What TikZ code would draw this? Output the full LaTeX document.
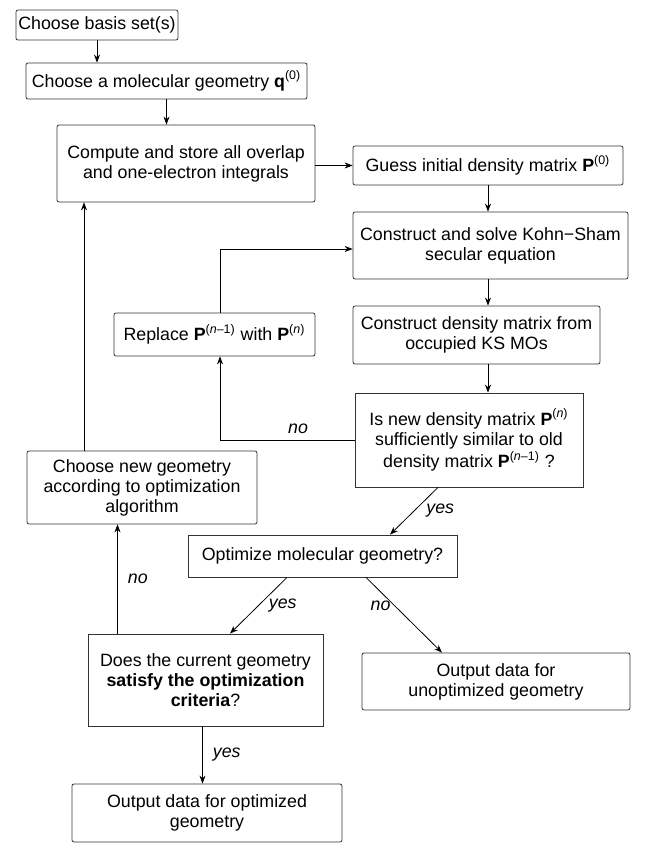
\documentclass[tikz,border=0pt]{standalone}
\usepackage{fontspec}
\setmainfont{Liberation Sans}
\usetikzlibrary{arrows.meta}

\tikzset{
    box/.style={draw=black!80, rounded corners=1pt, align=center, inner sep=0pt, font=\fontsize{8.9}{10}\selectfont},
    sqbox/.style={box, rounded corners=0pt},
    arr/.style={-{Stealth[length=4pt, width=3pt]}, black},
    lbl/.style={font=\fontsize{8.9}{10}\selectfont\itshape, inner sep=1pt}
}

\begin{document}
\begin{tikzpicture}[x=0.5pt, y=-0.5pt]
    \useasboundingbox (0,0) rectangle (646,856);
    % Boxes of the flow chart
    \node[box, minimum width=81pt, minimum height=15pt] (basis) at (97,25) {Choose basis set(s)};
    \node[box, minimum width=140.5pt, minimum height=18pt] (geom) at (166.5,81) {Choose a molecular geometry \textbf{q}\textsuperscript{(0)}};
    \node[box, minimum width=129pt, minimum height=38.5pt] (integrals) at (186,163.5) {Compute and store all overlap\\and one-electron integrals};
    \node[box, minimum width=135pt, minimum height=19.5pt] (guess) at (488,165.5) {Guess initial density matrix \textbf{P}\textsuperscript{(0)}};
    \node[box, minimum width=137.5pt, minimum height=33.5pt] (kohnsham) at (490.5,245.5) {Construct and solve Kohn−Sham\\secular equation};
    \node[box, minimum width=100.5pt, minimum height=21.5pt] (replace) at (214.5,334.5) {Replace \textbf{P}\textsuperscript{(\textit{n}–1)} with \textbf{P}\textsuperscript{(\textit{n})}};
    \node[box, minimum width=123.5pt, minimum height=29pt] (density) at (476.5,335) {Construct density matrix from\\occupied KS MOs};
    \node[sqbox, minimum width=114pt, minimum height=47pt] (similar) at (469,440) {Is new density matrix \textbf{P}\textsuperscript{(\textit{n})}\\sufficiently similar to old\\density matrix \textbf{P}\textsuperscript{(\textit{n}–1)} ?};
    \node[box, minimum width=115pt, minimum height=36.5pt] (newgeom) at (142,487.5) {Choose new geometry\\according to optimization\\algorithm};
    \node[sqbox, minimum width=134.5pt, minimum height=21pt] (optimize) at (322.5,556) {Optimize molecular geometry?};
    \node[sqbox, minimum width=117.5pt, minimum height=46pt] (criteria) at (205.5,680) {Does the current geometry\\\textbf{satisfy the optimization}\\\textbf{criteria}?};
    \node[box, minimum width=134pt, minimum height=28.5pt] (unopt) at (496,681.5) {Output data for\\unoptimized geometry};
    \node[box, minimum width=135pt, minimum height=29pt] (opt) at (207,813) {Output data for optimized\\geometry};

    % Straight arrows
    \draw[arr] (basis.south) -- (basis.south |- geom.north);
    \draw[arr] (geom.south) -- (geom.south |- integrals.north);
    \draw[arr] (integrals.east |- guess.west) -- (guess.west);
    \draw[arr] (guess.south) -- (guess.south |- kohnsham.north);
    \draw[arr] (guess.south |- kohnsham.south) -- (guess.south |- density.north);
    \draw[arr] (guess.south |- density.south) -- (guess.south |- similar.north);

    % SCF loop
    \coordinate (loop) at (220,249);
    \draw[arr] (similar.west) -| (loop |- replace.south) node[lbl, pos=0.21, above=2pt] {no};
    \draw[arr] (loop |- replace.north) |- (kohnsham.west |- loop);

    % Geometry loop
    \draw[arr] ([xshift=-29pt]newgeom.north) -- ([xshift=-29pt]newgeom.north |- integrals.south);
    \draw[arr] ([xshift=-44pt]criteria.north) -- ([xshift=-44pt]criteria.north |- newgeom.south) node[lbl, midway, right=4pt] {no};

    % Decisions
    \draw[arr] ([xshift=-15.5pt]similar.south) -- ([xshift=33.75pt]optimize.north) node[lbl, midway, right=5pt] {yes};
    \draw[arr] ([xshift=-17.75pt]optimize.south) -- ([xshift=12.25pt]criteria.north) node[lbl, midway, right=4pt] {yes};
    \draw[arr] ([xshift=21.75pt]optimize.south) -- ([xshift=-27pt]unopt.north) node[lbl, pos=0.38, left=1pt] {no};
    \draw[arr] ([xshift=-1.5pt]criteria.south) -- ([xshift=-1.5pt]criteria.south |- opt.north) node[lbl, midway, right=4pt] {yes};
\end{tikzpicture}
\end{document}
